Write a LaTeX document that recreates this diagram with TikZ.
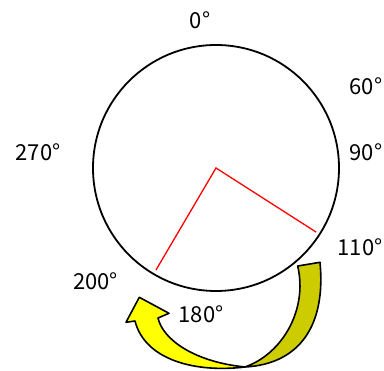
\documentclass[tikz,border=0pt]{standalone}
\usepackage{fontspec}
\setmainfont{Noto Sans CJK JP}
\usepackage{xcolor}
\usepackage{tikz}
\usetikzlibrary{calc}
\definecolor{arrowyellow}{RGB}{255,255,0}
\definecolor{arrowolive}{RGB}{204,204,0}
\tikzset{
    dial/.style={draw=black, line width=1.8pt},
    hand/.style={draw=red, line width=1.3pt},
    anglabel/.style={anchor=base, inner sep=0pt, font=\fontsize{22}{22}\selectfont},
    ribbon/.style={draw=black, line width=1.6pt, line join=round}
}
\begin{document}
\begin{tikzpicture}[x=1pt, y=-1pt]
\useasboundingbox (0,0) rectangle (384,371);

%% dial -- centre at (216, 168), radius 123
\coordinate (c) at (216,168);
\draw[dial] (c) circle (123);

%% hands
\coordinate (h110) at (316,232);
\coordinate (h200) at (156,270);
\draw[hand] (h200) -- (c) -- (h110);

%% angle labels
\node[anglabel] (a0)   at (200,29)  {0°};
\node[anglabel] (a60)  at (366,95)  {60°};
\node[anglabel] (a90)  at (366,161) {90°};
\node[anglabel] (a270) at (38,161)  {270°};
\node[anglabel] (a110) at (360,256) {110°};
\node[anglabel] (a200) at (95.5,290) {200°};
\node[anglabel] (a180) at (201,323) {180°};

%% curved block arrow, front (yellow) face
\coordinate (twist) at (245,367);
\draw[ribbon, fill=arrowyellow] (twist)
    .. controls (195,373) and (145,360) .. (135,321)
    -- (126,322.3) -- (139.3,297.3) -- (169,313.3) -- (158,318)
    .. controls (163,340) and (195,362) .. (twist) -- cycle;

%% back (olive) face of the tail
\draw[ribbon, fill=arrowolive] (297.7,266) -- (320,262.3)
    .. controls (326,325) and (300,364) .. (twist)
    .. controls (282,354) and (308,310) .. (297.7,266) -- cycle;

\end{tikzpicture}
\end{document}
